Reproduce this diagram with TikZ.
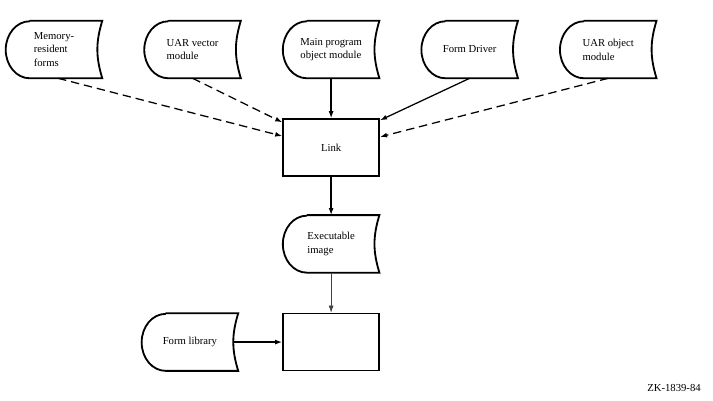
\documentclass[tikz,border=0pt]{standalone}
\usepackage{fontspec}
\setmainfont{Liberation Serif}
\usetikzlibrary{arrows.meta,positioning}

\begin{document}
\begin{tikzpicture}[
    outline/.style={line width=1.3pt,black},
    stored/.style={minimum width=2.4cm,minimum height=1.425cm,align=left,
                   inner sep=1pt,font=\fontsize{7.6}{9.8}\selectfont,
                   append after command={\pgfextra{\let\thisnode\tikzlastnode
                     \draw[outline] ([xshift=0.6cm]\thisnode.north west)
                       -- (\thisnode.north east)
                       to[bend right=17] (\thisnode.south east)
                       -- ([xshift=0.6cm]\thisnode.south west)
                       arc[start angle=270,end angle=90,x radius=0.6cm,y radius=0.7125cm];}}},
    box/.style={draw,line width=1.3pt,minimum width=2.4cm,minimum height=1.425cm,
                font=\fontsize{7.6}{9.8}\selectfont},
    arr/.style={-{Latex[length=5pt,width=3.5pt]},line width=0.9pt},
    optional/.style={dash pattern=on 6pt off 3.5pt}
  ]
    \useasboundingbox (0,0) rectangle (17.825,-10.025);

    % inputs
    \node[stored] (mem) at (1.35,-1.2375) {Memory-\\resident\\forms};
    \node[stored,right=1.05cm of mem] (vec) {UAR vector\\module};
    \node[stored,right=1.05cm of vec] (main) {Main program\\object module};
    \node[stored,right=1.05cm of main] (drv) {Form Driver};
    \node[stored,right=1.05cm of drv] (obj) {UAR object\\module};

    \node[box,below=1.0cm of main] (link) {Link};
    \node[stored,below=0.95cm of link] (exe) {Executable\\image};
    \node[box,below=1.0cm of exe] (out) {};
    \node[stored,left=1.1cm of out] (lib) {Form library};

    \draw[arr,optional] ([xshift=0.1cm]mem.south) -- ([yshift=0.29cm]link.west);
    \draw[arr,optional] (vec.south) -- ([yshift=-0.1cm]link.north west);
    \draw[arr] (main) -- (link);
    \draw[arr] (drv.south) -- ([yshift=-0.05cm]link.north east);
    \draw[arr,optional] (obj.south) -- ([yshift=0.27cm]link.east);
    \draw[arr] (link) -- (exe);
    \draw[arr,line width=0.5pt,black!75] (exe) -- (out);
    \draw[arr] ([xshift=-0.12cm]lib.east) -- (out);

    \node[font=\fontsize{7.6}{9.8}\selectfont] (zk) at (16.85,-9.7) {ZK-1839-84};
\end{tikzpicture}
\end{document}
